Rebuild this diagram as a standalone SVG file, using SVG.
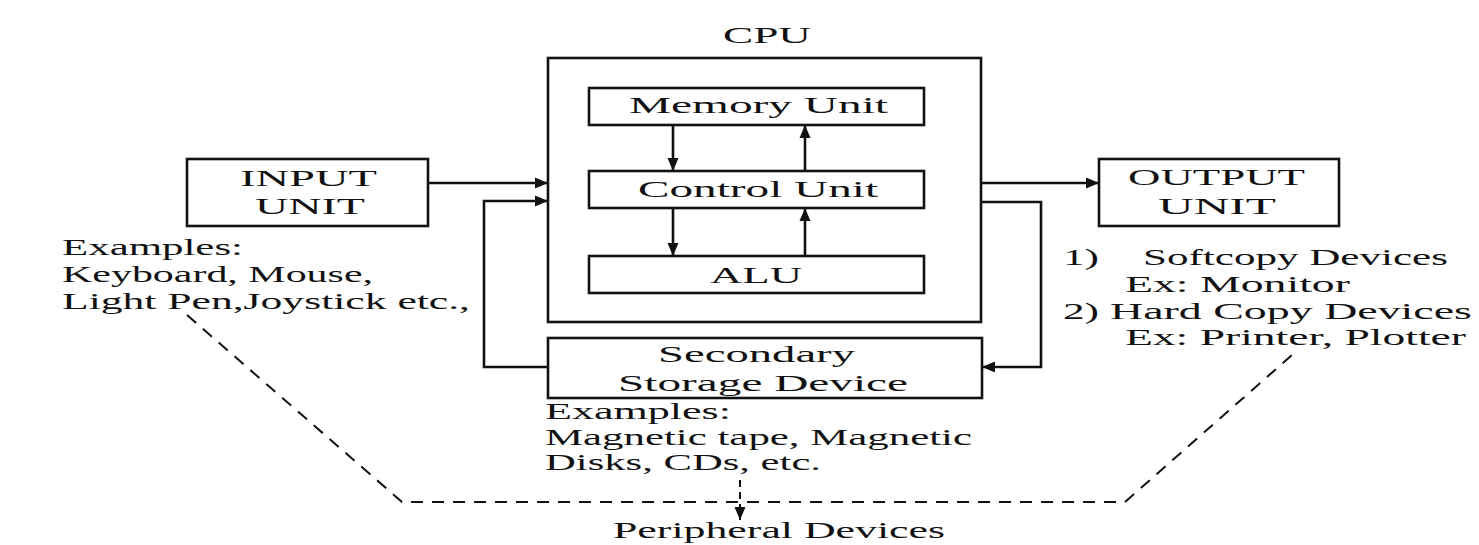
<svg xmlns="http://www.w3.org/2000/svg" width="1479" height="545" viewBox="0 0 1479 545">
<style>
  .box { fill: none; stroke: #111; stroke-width: 2.6; }
  .ln { fill: none; stroke: #111; stroke-width: 2.6; }
  .dash { fill: none; stroke: #111; stroke-width: 2; }
  text { font-family: "Liberation Serif", "Times New Roman", serif; font-size: 23px; fill: #111; }
</style>
<defs>
  <marker id="ah" markerUnits="userSpaceOnUse" markerWidth="14" markerHeight="12" refX="13" refY="6" orient="auto">
    <path d="M0,0.5 L13,6 L0,11.5 z" fill="#111"/>
  </marker>
</defs>
<rect width="1479" height="545" fill="#ffffff"/>

<g id="cpu">
  <text x="723" y="43" textLength="88" lengthAdjust="spacingAndGlyphs">CPU</text>
  <rect class="box" x="548" y="58" width="433" height="264"/>
</g>
<g id="memory-unit">
  <rect class="box" x="589" y="88" width="335" height="37"/>
  <text x="629" y="113" textLength="259" lengthAdjust="spacingAndGlyphs">Memory Unit</text>
</g>
<g id="control-unit">
  <rect class="box" x="589" y="171" width="335" height="37"/>
  <text x="638" y="197" textLength="240" lengthAdjust="spacingAndGlyphs">Control Unit</text>
</g>
<g id="alu">
  <rect class="box" x="589" y="256" width="335" height="37"/>
  <text x="710" y="283" textLength="92" lengthAdjust="spacingAndGlyphs">ALU</text>
</g>
<g id="input-unit">
  <rect class="box" x="187" y="159" width="241" height="67"/>
  <text x="240" y="186" textLength="137" lengthAdjust="spacingAndGlyphs">INPUT</text>
  <text x="255" y="214" textLength="110" lengthAdjust="spacingAndGlyphs">UNIT</text>
</g>
<g id="input-examples">
  <text x="62" y="255" textLength="181" lengthAdjust="spacingAndGlyphs">Examples:</text>
  <text x="62" y="282" textLength="311" lengthAdjust="spacingAndGlyphs">Keyboard, Mouse,</text>
  <text x="62" y="309" textLength="408" lengthAdjust="spacingAndGlyphs">Light Pen,Joystick etc.,</text>
</g>
<g id="output-unit">
  <rect class="box" x="1099" y="159" width="240" height="67"/>
  <text x="1128" y="185" textLength="177" lengthAdjust="spacingAndGlyphs">OUTPUT</text>
  <text x="1158" y="214" textLength="118" lengthAdjust="spacingAndGlyphs">UNIT</text>
</g>
<g id="output-examples">
  <text x="1063" y="265" textLength="36" lengthAdjust="spacingAndGlyphs">1)</text>
  <text x="1143" y="265" textLength="305" lengthAdjust="spacingAndGlyphs">Softcopy Devices</text>
  <text x="1125" y="292" textLength="225" lengthAdjust="spacingAndGlyphs">Ex: Monitor</text>
  <text x="1063" y="319" textLength="36" lengthAdjust="spacingAndGlyphs">2)</text>
  <text x="1110" y="319" textLength="362" lengthAdjust="spacingAndGlyphs">Hard Copy Devices</text>
  <text x="1125" y="345" textLength="341" lengthAdjust="spacingAndGlyphs">Ex: Printer, Plotter</text>
</g>
<g id="secondary-storage">
  <rect class="box" x="548" y="338" width="434" height="60"/>
  <text x="658" y="362" textLength="197" lengthAdjust="spacingAndGlyphs">Secondary</text>
  <text x="618" y="391" textLength="290" lengthAdjust="spacingAndGlyphs">Storage Device</text>
</g>
<g id="storage-examples">
  <text x="545" y="419" textLength="186" lengthAdjust="spacingAndGlyphs">Examples:</text>
  <text x="545" y="445" textLength="427" lengthAdjust="spacingAndGlyphs">Magnetic tape, Magnetic</text>
  <text x="545" y="470" textLength="276" lengthAdjust="spacingAndGlyphs">Disks, CDs, etc.</text>
</g>
<g id="peripheral-devices">
  <text x="613" y="538" textLength="332" lengthAdjust="spacingAndGlyphs">Peripheral Devices</text>
</g>

<g id="connectors">
  <line class="ln" x1="673" y1="125" x2="673" y2="171" marker-end="url(#ah)"/>
  <line class="ln" x1="805" y1="171" x2="805" y2="125" marker-end="url(#ah)"/>
  <line class="ln" x1="673" y1="208" x2="673" y2="256" marker-end="url(#ah)"/>
  <line class="ln" x1="805" y1="256" x2="805" y2="208" marker-end="url(#ah)"/>
  <line class="ln" x1="428" y1="183" x2="548" y2="183" marker-end="url(#ah)"/>
  <path class="ln" d="M548,367 L484,367 L484,201 L548,201" marker-end="url(#ah)"/>
  <line class="ln" x1="981" y1="183" x2="1099" y2="183" marker-end="url(#ah)"/>
  <path class="ln" d="M981,202 L1041,202 L1041,367 L982,367" marker-end="url(#ah)"/>
  <path class="dash" d="M187,315 L402,502 L1125,502 L1292,355" stroke-dasharray="12 9"/>
  <line class="dash" x1="740" y1="480" x2="740" y2="520" stroke-dasharray="7 5" marker-end="url(#ah)"/>
</g>
</svg>
